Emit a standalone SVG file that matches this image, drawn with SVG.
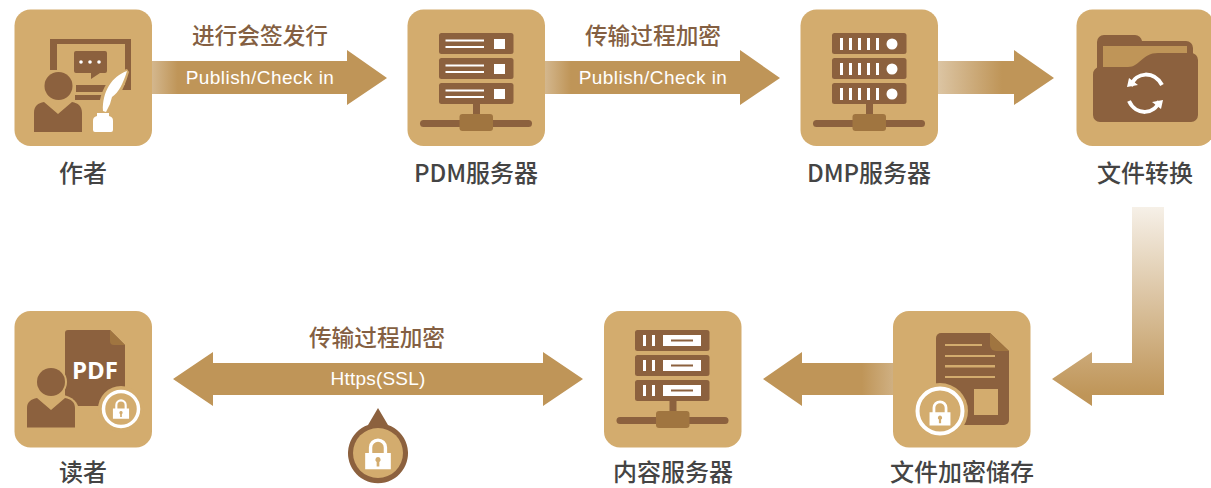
<svg xmlns="http://www.w3.org/2000/svg" xmlns:xlink="http://www.w3.org/1999/xlink" width="1211" height="488" viewBox="0 0 1211 488">
<style>
.box{fill:#d3ac6e}
.br{fill:#8c613e}
.wh{fill:#fff}
.tan{fill:#d3ac6e}
.hub{fill:#a07540}
.arr{fill:#bf9558}
.nl{font-family:"Noto Sans CJK SC","Liberation Sans",sans-serif;font-size:24px;font-weight:500;fill:#444;text-anchor:middle}
.el{font-family:"Noto Sans CJK SC","Liberation Sans",sans-serif;font-size:22.7px;font-weight:500;fill:#845f42;text-anchor:middle}
.al{font-family:"Liberation Sans",Arial,sans-serif;font-size:19px;letter-spacing:.45px;fill:#fff;text-anchor:middle}
</style>
<defs>
<linearGradient id="gR" x1="0" x2="1" y1="0" y2="0"><stop offset="0" stop-color="#bf9558" stop-opacity=".68"/><stop offset=".11" stop-color="#bf9558"/></linearGradient>
<linearGradient id="gR3" x1="0" x2="1" y1="0" y2="0"><stop offset="0" stop-color="#bf9558" stop-opacity=".55"/><stop offset=".55" stop-color="#bf9558"/></linearGradient>
<linearGradient id="gL" x1="1" x2="0" y1="0" y2="0"><stop offset="0" stop-color="#bf9558" stop-opacity=".75"/><stop offset=".24" stop-color="#bf9558"/></linearGradient>
<linearGradient id="gV" gradientUnits="userSpaceOnUse" x1="0" x2="0" y1="207" y2="395"><stop offset="0" stop-color="#bf9558" stop-opacity=".14"/><stop offset="1" stop-color="#bf9558"/></linearGradient>
<g id="net"><rect class="br" x="66" y="104" width="7" height="17"/><rect class="br" x="13" y="120" width="112" height="7" rx="3.5"/><rect class="hub" x="52.500" y="114" width="33.500" height="17" rx="3"/></g>
<g id="lock"><path d="M-5.500 -2V-7a5.500 5.500 0 0 1 11 0V-2" fill="none" stroke="#fff" stroke-width="2.500"/><path class="wh" fill-rule="evenodd" d="M-9.500 -3H9.500V9H-9.500ZM0 0a2 2 0 0 0-1 3.700V7H1V3.700A2 2 0 0 0 0 0Z"/></g>
</defs>

<g id="connectors">
<path fill="url(#gR)" d="M152 61H347V50L387 78L347 105V94H152Z"/>
<path fill="url(#gR)" d="M545 61H740V50L780 78L740 105V94H545Z"/>
<path fill="url(#gR3)" d="M938 61H1014V50L1054 78L1014 105V94H938Z"/>
<path fill="url(#gV)" d="M1132 207H1164V395H1092V406L1052 379L1092 352V363H1132Z"/>
<path fill="url(#gL)" d="M893 363H802V352L763 379L802 406V395H893Z"/>
<path class="arr" d="M173 379L213 352V363H543V352L583 379L543 406V395H213V406Z"/>
</g>

<g id="edge-labels">
<text class="el" x="260" y="44">进行会签发行</text>
<text class="al" x="260" y="84">Publish/Check in</text>
<text class="el" x="653" y="44">传输过程加密</text>
<text class="al" x="653" y="84">Publish/Check in</text>
<text class="el" x="377" y="346">传输过程加密</text>
<text class="al" x="378" y="385" style="letter-spacing:.2px">Https(SSL)</text>
</g>

<g id="ssl-lock">
<path class="br" d="M378 408L388 425A30 30 0 1 1 368 425Z"/>
<circle class="tan" cx="378" cy="453" r="25"/>
<use xlink:href="#lock" href="#lock" transform="translate(378 457) scale(1.35)"/>
</g>

<g id="author">
<rect class="box" x="14.500" y="9.500" width="137.500" height="136.500" rx="16"/>
<path class="br" d="M50 39H131V90H100V85H125V44H57V70H50Z"/>
<path class="br" d="M76 51H105a2 2 0 0 1 2 2V71a2 2 0 0 1-2 2H100L91 79V73H76a2 2 0 0 1-2-2V53a2 2 0 0 1 2-2Z"/>
<circle class="wh" cx="81" cy="62" r="1.800"/><circle class="wh" cx="90" cy="62" r="1.800"/><circle class="wh" cx="99" cy="62" r="1.800"/>
<path class="br" d="M76 85H110V92H76ZM75 95H103V100H75Z"/>
<circle class="br" cx="58.500" cy="86" r="14"/>
<path class="br" d="M34 132V113C34 106 38 103 44 102L58 114L72 102C78 103 82 106 82 113V132Z"/>
<path class="box" d="M99 106C101 88 110 74 127 69L129 72C124 90 116 102 108 114H99Z"/>
<path class="wh" d="M103 111C102 92 112 76 127 71C123 84 119 92 112 97L110 104L106 112Z"/>
<path class="wh" d="M97 113H109V116C112 117 113 118 113 121V130a2 2 0 0 1-2 2H95a2 2 0 0 1-2-2V121C93 118 94 117 97 116Z"/>
</g>

<g id="pdm">
<rect class="box" x="407.500" y="9.500" width="137.500" height="136.500" rx="16"/>
<g transform="translate(407 0)"><use xlink:href="#net" href="#net"/></g>
<rect class="br" x="439" y="33" width="74.500" height="21" rx="2.500"/><rect class="br" x="439" y="58" width="74.500" height="21" rx="2.500"/><rect class="br" x="439" y="83" width="74.500" height="21" rx="2.500"/>
<path class="wh" d="M445.500 39.500H484V41.500H445.500ZM445.500 46H484V48H445.500ZM445.500 64.500H484V66.500H445.500ZM445.500 71H484V73H445.500ZM445.500 89.500H484V91.500H445.500ZM445.500 96H484V98H445.500Z"/>
<rect class="wh" x="494" y="39" width="11" height="10"/><rect class="wh" x="494" y="64" width="11" height="10"/><rect class="wh" x="494" y="89" width="11" height="10"/>
</g>

<g id="dmp">
<rect class="box" x="800.500" y="9.500" width="137.500" height="136.500" rx="16"/>
<g transform="translate(800 0)"><use xlink:href="#net" href="#net"/></g>
<rect class="br" x="832" y="33" width="74.500" height="21" rx="2.500"/><rect class="br" x="832" y="58" width="74.500" height="21" rx="2.500"/><rect class="br" x="832" y="83" width="74.500" height="21" rx="2.500"/>
<path class="wh" d="M840 38h3v12h-3zM849 38h3v12h-3zM858 38h3v12h-3zM867 38h3v12h-3zM876 38h3v12h-3zM840 63h3v12h-3zM849 63h3v12h-3zM858 63h3v12h-3zM867 63h3v12h-3zM876 63h3v12h-3zM840 88h3v12h-3zM849 88h3v12h-3zM858 88h3v12h-3zM867 88h3v12h-3zM876 88h3v12h-3z"/>
<circle class="wh" cx="892" cy="44" r="5.500"/><circle class="wh" cx="892" cy="69" r="5.500"/><circle class="wh" cx="892" cy="94" r="5.500"/>
</g>

<g id="convert">
<rect class="box" x="1076.500" y="9.500" width="137.500" height="136.500" rx="16"/>
<path class="br" d="M1097 70V42a7 7 0 0 1 7-7H1135a7 7 0 0 1 7 6H1186a7 7 0 0 1 7 7V70Z"/>
<path fill="#bf9558" d="M1103 46H1187V60H1103Z M1103 60H1160V70H1103Z"/>
<path class="br" d="M1093 75a7 7 0 0 1 7-8H1128C1140 67 1142 53 1158 53H1191a7 7 0 0 1 7 7V115a7 7 0 0 1-7 7H1100a7 7 0 0 1-7-7Z"/>
<path d="M1131 86C1136 71 1154 71 1162 85M1129 101C1136 116 1155 115 1159 101" fill="none" stroke="#fff" stroke-width="4"/>
<path class="wh" d="M1127 87L1129 78L1138 85ZM1163 100L1161 109L1152 102Z"/>
</g>

<g id="reader">
<rect class="box" x="14.500" y="311" width="137.500" height="136.500" rx="16"/>
<path class="br" d="M68 330H110L125 345V406H68a3 3 0 0 1-3-3V333a3 3 0 0 1 3-3Z"/>
<path class="hub" d="M110 330L125 345H114a4 4 0 0 1-4-4Z"/>
<text x="95" y="379" font-family="'Open Sans','Liberation Sans',sans-serif" font-size="24" font-weight="700" fill="#fff" text-anchor="middle">PDF</text>
<circle class="box" cx="121" cy="409" r="23"/>
<circle cx="121" cy="409" r="17.500" fill="#d3ac6e" stroke="#fff" stroke-width="3.500"/>
<use xlink:href="#lock" href="#lock" transform="translate(121 411) scale(.85)"/>
<circle class="tan" cx="51" cy="382" r="16"/>
<path class="tan" d="M24 428V412C24 402 32 396 42 395H62C72 396 79 402 79 412V428Z"/>
<circle class="br" cx="51" cy="382" r="14"/>
<path class="br" d="M27 427.500V408C27 402 31 399 37 398L51 410L65 398C71 399 75 402 75 408V427.500Z"/>
</g>

<g id="content">
<rect class="box" x="604" y="311" width="137.500" height="136.500" rx="16"/>
<g transform="translate(603.500 297)"><use xlink:href="#net" href="#net"/></g>
<rect class="br" x="635" y="330" width="74.500" height="21" rx="2.500"/><rect class="br" x="635" y="355" width="74.500" height="21" rx="2.500"/><rect class="br" x="635" y="380" width="74.500" height="21" rx="2.500"/>
<path class="wh" d="M643 335h3v11h-3zM652 335h3v11h-3zM643 360h3v11h-3zM652 360h3v11h-3zM643 385h3v11h-3zM652 385h3v11h-3z"/>
<g fill="#fff"><rect x="663" y="335" width="38" height="11"/><rect x="663" y="360" width="38" height="11"/><rect x="663" y="385" width="38" height="11"/></g>
<path class="br" d="M671 339.500H693V341.500H671ZM671 364.500H693V366.500H671ZM671 389.500H693V391.500H671Z"/>
</g>

<g id="storage">
<rect class="box" x="893" y="311" width="137.500" height="136.500" rx="16"/>
<path class="br" d="M941 333H990L1009 351V420a5 5 0 0 1-5 5H941a5 5 0 0 1-5-5V338a5 5 0 0 1 5-5Z"/>
<path class="hub" d="M990 333L1009 351H996a6 6 0 0 1-6-6Z"/>
<path class="tan" d="M945 344H982V346H945ZM945 355H995V357H945ZM945 365H995V367.500H945ZM945 376H995V378H945Z"/>
<rect class="tan" x="974" y="389" width="24" height="26"/>
<circle class="box" cx="940" cy="411" r="28"/>
<circle cx="940" cy="411" r="22.500" fill="#d3ac6e" stroke="#fff" stroke-width="4"/>
<use xlink:href="#lock" href="#lock" transform="translate(940 415.500) scale(1.1)"/>
</g>

<g id="node-labels">
<text class="nl" x="83" y="182">作者</text>
<text class="nl" x="476" y="182">PDM服务器</text>
<text class="nl" x="869" y="182">DMP服务器</text>
<text class="nl" x="1145" y="182">文件转换</text>
<text class="nl" x="83" y="481">读者</text>
<text class="nl" x="673" y="481">内容服务器</text>
<text class="nl" x="962" y="481">文件加密储存</text>
</g>
</svg>
